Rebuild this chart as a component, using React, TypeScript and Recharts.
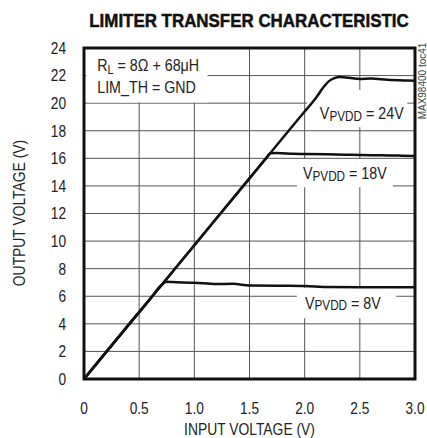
import { LineChart, Line, XAxis, YAxis, CartesianGrid, ReferenceArea } from 'recharts';

const FONT = "'Liberation Sans', Arial, sans-serif";
const NARROW = 0.83; // squeeze Liberation Sans towards a condensed face

// values
const X_TICKS = [0, 0.5, 1.0, 1.5, 2.0, 2.5, 3.0];
const Y_TICKS = [0, 2, 4, 6, 8, 10, 12, 14, 16, 18, 20, 22, 24];

const IN_24 = [0, 0.5, 1.0, 1.5, 2.0, 2.1, 2.17, 2.22, 2.27, 2.32, 2.4, 2.5, 2.6, 2.75, 2.9, 3.0];
const OUT_24 = [0, 4.85, 9.7, 14.55, 19.4, 20.35, 21.15, 21.6, 21.82, 21.9, 21.84, 21.76, 21.79, 21.7, 21.65, 21.63];

const IN_18 = [0, 0.5, 1.0, 1.5, 1.65, 1.69, 1.75, 1.9, 2.0, 2.2, 2.4, 2.5, 2.7, 2.85, 3.0];
const OUT_18 = [0, 4.85, 9.7, 14.55, 16.0, 16.37, 16.38, 16.33, 16.32, 16.3, 16.26, 16.24, 16.22, 16.2, 16.17];

const IN_8 = [0, 0.2, 0.4, 0.6, 0.7, 0.75, 0.8, 1.0, 1.2, 1.35, 1.5, 1.8, 2.0, 2.2, 2.5, 3.0];
const OUT_8 = [0, 1.95, 3.9, 5.8, 6.8, 7.05, 7.03, 6.98, 6.88, 6.9, 6.78, 6.76, 6.74, 6.67, 6.65, 6.65];

const toPoints = (xs: number[], ys: number[]) => xs.map((x, i) => ({ vin: x, vout: ys[i] }));

const curve24 = toPoints(IN_24, OUT_24);
const curve18 = toPoints(IN_18, OUT_18);
const curve8 = toPoints(IN_8, OUT_8);

const fmtX = (v: number) => (v === 0 ? '0' : v.toFixed(1));

const XTick = (props: any) => {
  const { x, y, payload } = props;
  return (
    <text transform={`translate(${x},${y}) scale(${NARROW},1)`} textAnchor="middle" dy="0.71em"
      fontFamily={FONT} fontSize={16.5} fill="#222">
      {fmtX(payload.value)}
    </text>
  );
};

const YTick = (props: any) => {
  const { x, y, payload } = props;
  return (
    <text transform={`translate(${x},${y}) scale(${NARROW},1)`} textAnchor="end" dy="0.355em"
      fontFamily={FONT} fontSize={16.5} fill="#222">
      {payload.value}
    </text>
  );
};

const pvddLabel = (supply: string, dx: number, dy: number) => (props: any) => {
  const { x, y } = props.viewBox;
  return (
    <g transform={`translate(${x + dx},${y + dy}) scale(0.84,1)`}>
      <text x={0} y={0} fontFamily={FONT} fontSize={17} fill="#222">
        V<tspan fontSize={14} dy={1.5}>PVDD</tspan>
        <tspan dy={-1.5}>{` = ${supply}`}</tspan>
      </text>
    </g>
  );
};

const conditionsLabel = (props: any) => {
  const { x, y } = props.viewBox;
  return (
    <g transform={`translate(${x + 11},${y}) scale(0.84,1)`} fontFamily={FONT} fontSize={17} fill="#222">
      <text x={0} y={22}>
        R<tspan fontSize={13} dy={3}>L</tspan>
        <tspan dy={-3}>{' = 8Ω + 68μH'}</tspan>
      </text>
      <text x={0} y={44}>LIM_TH = GND</text>
    </g>
  );
};

export default function App() {
  return (
    <div style={{ position: 'absolute', left: 0, top: 0, width: 427, height: 438, background: '#fff' }}>
      <div
        style={{
          position: 'absolute', left: 48, top: 10, width: 402, height: 22, lineHeight: '22px',
          textAlign: 'center', fontFamily: FONT, fontWeight: 'bold', fontSize: 19, color: '#111',
          transform: 'scaleX(0.89)', whiteSpace: 'nowrap', WebkitTextStroke: '0.5px #111',
        }}
      >
        LIMITER TRANSFER CHARACTERISTIC
      </div>

      <LineChart width={427} height={438} margin={{ top: 48, right: 12, bottom: 0, left: 0 }}>
        <CartesianGrid stroke="#555" strokeWidth={1} />
        <XAxis
          type="number"
          dataKey="vin"
          domain={[0, 3]}
          ticks={X_TICKS}
          height={59}
          axisLine={false}
          tickLine={false}
          tickSize={0}
          tickMargin={23}
          tick={<XTick />}
          interval={0}
        />
        <YAxis
          type="number"
          dataKey="vout"
          domain={[0, 24]}
          ticks={Y_TICKS}
          width={84}
          axisLine={false}
          tickLine={false}
          tickSize={0}
          tickMargin={18}
          tick={<YTick />}
          interval={0}
        />
        <ReferenceArea x1={0.02} x2={1.12} y1={20.05} y2={23.95} fill="#fff" fillOpacity={1} stroke="none" label={conditionsLabel} />
        <ReferenceArea x1={2.02} x2={2.93} y1={18.25} y2={20.95} fill="#fff" fillOpacity={1} stroke="none" label={pvddLabel('24V', 13, 29)} />
        <ReferenceArea x1={1.93} x2={2.8} y1={13.9} y2={15.95} fill="#fff" fillOpacity={1} stroke="none" label={pvddLabel('18V', 6, 20)} />
        <ReferenceArea x1={1.93} x2={2.83} y1={4.4} y2={6.6} fill="#fff" fillOpacity={1} stroke="none" label={pvddLabel('8V', 8, 21)} />
        <Line data={curve24} dataKey="vout" type="monotone" stroke="#111" strokeWidth={2.5} dot={false} isAnimationActive={false} />
        <Line data={curve18} dataKey="vout" type="monotone" stroke="#111" strokeWidth={2.5} dot={false} isAnimationActive={false} />
        <Line data={curve8} dataKey="vout" type="monotone" stroke="#111" strokeWidth={2.5} dot={false} isAnimationActive={false} />
        <ReferenceArea x1={0} x2={3} y1={0} y2={24} fill="none" stroke="#111" strokeWidth={3} />
      </LineChart>

      <div
        style={{
          position: 'absolute', left: 84, top: 420, width: 331, height: 18, lineHeight: '18px',
          textAlign: 'center', fontFamily: FONT, fontSize: 16.5, color: '#222',
          transform: 'scaleX(0.84)', whiteSpace: 'nowrap',
        }}
      >
        INPUT VOLTAGE (V)
      </div>
      <div
        style={{
          position: 'absolute', left: -81, top: 204, width: 200, height: 18, lineHeight: '18px',
          textAlign: 'center', fontFamily: FONT, fontSize: 16.5, color: '#222',
          transform: 'rotate(-90deg) scaleX(0.84)', whiteSpace: 'nowrap',
        }}
      >
        OUTPUT VOLTAGE (V)
      </div>
      <div
        style={{
          position: 'absolute', left: 383, top: 76, width: 80, height: 10, lineHeight: '10px',
          textAlign: 'center', fontFamily: FONT, fontSize: 10, color: '#444',
          transform: 'rotate(-90deg)', whiteSpace: 'nowrap',
        }}
      >
        MAX98400 toc41
      </div>
    </div>
  );
}
